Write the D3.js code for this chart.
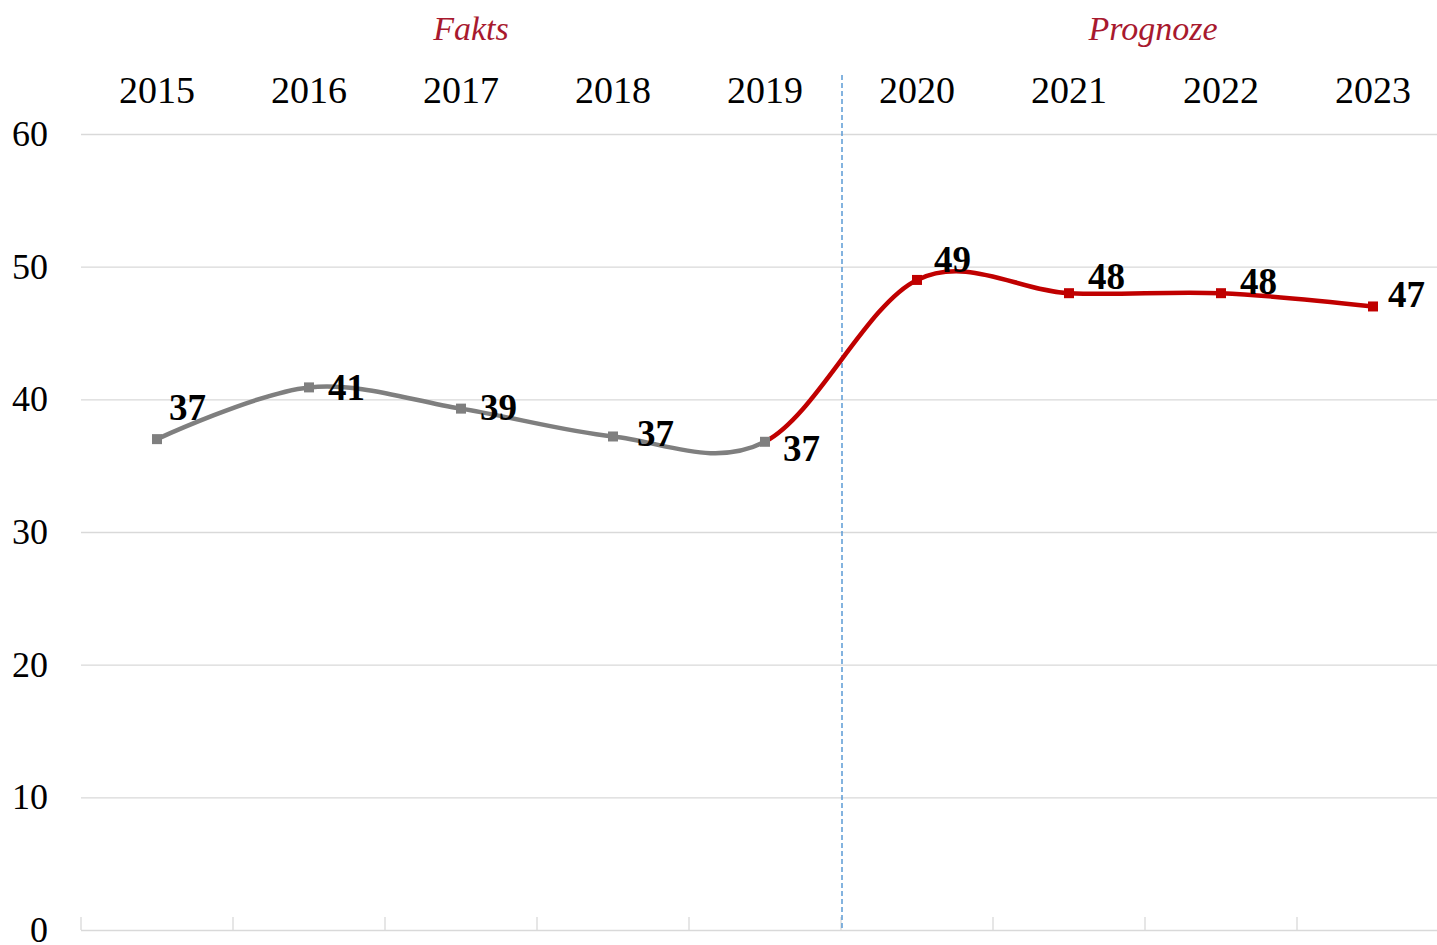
<!DOCTYPE html>
<html><head><meta charset="utf-8">
<script src="https://cdn.jsdelivr.net/npm/d3@7"></script>
<style>body{margin:0;background:#fff;overflow:hidden}</style>
</head><body>
<svg id="c" width="1437" height="945"></svg>
<script>
// ---- data ----
const years = ["2015","2016","2017","2018","2019","2020","2021","2022","2023"];
const values = [37.0, 40.9, 39.3, 37.2, 36.8, 49.0, 48.0, 48.0, 47.0];
const valueLabels = ["37","41","39","37","37","49","48","48","47"];
const yTicks = [0, 10, 20, 30, 40, 50, 60];
const lastFactIndex = 4;
const sectionTitles = ["Fakts", "Prognoze"];

// ---- layout / style ----
const W = 1437, H = 945;
const labelOffsets = [[12,-19],[19,13],[19,11],[24,10],[18,19],[17,-8],[19,-4],[19,1],[15,1]];
const sectionX = [471, 1153];
const GRAY = "#7f7f7f", RED = "#c00000", GRID = "#d9d9d9";
const serif = "'Liberation Serif','Times New Roman',serif";

const svg = d3.select("#c");
const x = d3.scaleBand().domain(years).range([81, 1449]).paddingInner(0).paddingOuter(0);
const cx = d => x(d) + x.bandwidth() / 2;
const y = d3.scaleLinear().domain([0, 60]).range([930, 134]);

// gridlines
const grid = svg.append("g").attr("transform", "translate(81,0)")
  .call(d3.axisLeft(y).tickValues(yTicks).tickSize(-(1449 - 81)).tickFormat(""));
grid.select(".domain").remove();
grid.selectAll("line").attr("stroke", GRID).attr("stroke-width", 1.3);

// y labels
const yAx = svg.append("g").attr("transform", "translate(81,0)")
  .call(d3.axisLeft(y).tickValues(yTicks).tickSize(0).tickPadding(33).tickFormat(d3.format("d")));
yAx.select(".domain").remove();
yAx.selectAll("text").attr("font-family", serif).attr("font-size", 36).attr("fill", "#000");

// bottom ticks at band boundaries
svg.append("g").selectAll("line").data(years.slice(1).concat(["end"])).join("line")
  .attr("x1", (d, i) => x(years[0]) + (i + 1) * x.bandwidth())
  .attr("x2", (d, i) => x(years[0]) + (i + 1) * x.bandwidth())
  .attr("y1", 917).attr("y2", 930).attr("stroke", GRID).attr("stroke-width", 1.3);
svg.append("line").attr("x1", x(years[0])).attr("x2", x(years[0])).attr("y1", 917).attr("y2", 930)
  .attr("stroke", GRID).attr("stroke-width", 1.3);

// year labels (top axis)
const xAx = svg.append("g").attr("transform", "translate(0,103)")
  .call(d3.axisTop(x).tickSize(0).tickPadding(0));
xAx.select(".domain").remove();
xAx.selectAll("text").attr("font-family", serif).attr("font-size", 38).attr("fill", "#000").attr("dy", "0em");

// section titles
svg.append("g").selectAll("text").data(sectionTitles).join("text")
  .attr("x", (d, i) => sectionX[i]).attr("y", 40)
  .attr("text-anchor", "middle").attr("font-family", serif).attr("font-style", "italic")
  .attr("font-size", 34).attr("fill", "#a8192e").text(d => d);

// dashed divider
const divX = x(years[lastFactIndex + 1]);
svg.append("line").attr("x1", divX + 1).attr("x2", divX + 1).attr("y1", 75).attr("y2", 930)
  .attr("stroke", "#5b9bd5").attr("stroke-width", 1.5).attr("stroke-dasharray", "5,3");

// clip regions
const defs = svg.append("defs");
const splitX = cx(years[lastFactIndex]);
defs.append("clipPath").attr("id", "clipFact").append("rect")
  .attr("x", 0).attr("y", 0).attr("width", splitX).attr("height", H);
defs.append("clipPath").attr("id", "clipProg").append("rect")
  .attr("x", splitX).attr("y", 0).attr("width", W - splitX).attr("height", H);

const pts = years.map((d, i) => ({ year: d, v: values[i], i }));
const line = d3.line().x(d => cx(d.year)).y(d => y(d.v)).curve(d3.curveCatmullRom.alpha(0));

svg.append("path").datum(pts).attr("d", line).attr("fill", "none")
  .attr("stroke", RED).attr("stroke-width", 4.5).attr("clip-path", "url(#clipProg)");
svg.append("path").datum(pts).attr("d", line).attr("fill", "none")
  .attr("stroke", GRAY).attr("stroke-width", 4.5).attr("clip-path", "url(#clipFact)");

// markers
const ms = 10;
svg.append("g").selectAll("rect").data(pts).join("rect")
  .attr("x", d => cx(d.year) - ms / 2).attr("y", d => y(d.v) - ms / 2)
  .attr("width", ms).attr("height", ms)
  .attr("fill", d => d.i <= lastFactIndex ? GRAY : RED);

// value labels
svg.append("g").selectAll("text").data(pts).join("text")
  .attr("x", d => cx(d.year) + labelOffsets[d.i][0])
  .attr("y", d => y(d.v) + labelOffsets[d.i][1])
  .attr("font-family", serif).attr("font-weight", "bold").attr("font-size", 37)
  .attr("fill", "#000").text(d => valueLabels[d.i]);
</script>
</body></html>
